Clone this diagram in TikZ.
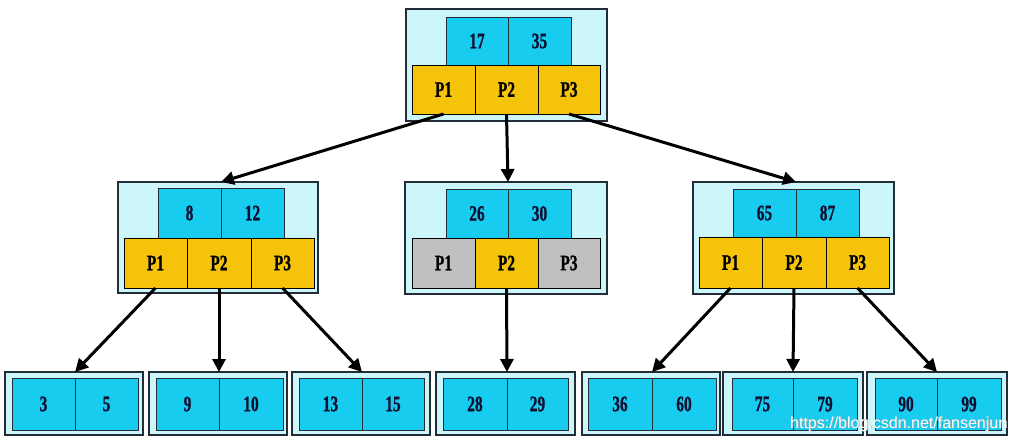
\documentclass[tikz,border=0pt]{standalone}
\usepackage{fontspec}
\usepackage{graphicx}
\setmainfont{Liberation Serif}[BoldFeatures={FakeBold=1.2}]
\newfontfamily\wmfont{Liberation Sans}
\usetikzlibrary{arrows.meta}
\definecolor{outerfill}{RGB}{204,246,250}
\definecolor{keyfill}{RGB}{24,204,240}
\definecolor{ptrfill}{RGB}{245,196,10}
\definecolor{grayfill}{RGB}{192,192,192}
\definecolor{bordercol}{RGB}{35,45,55}
\definecolor{txtcol}{RGB}{15,15,50}
\tikzset{
  outerbox/.style={draw=bordercol, fill=outerfill, line width=1.2pt},
  leafbox/.style={draw=bordercol, fill=outerfill, line width=1.6pt},
  keycell/.style={draw=bordercol, fill=keyfill, line width=1pt, text=txtcol, font=\bfseries\fontsize{22}{22}\selectfont},
  ptrcell/.style={draw=black, fill=ptrfill, line width=1pt, text=black, font=\bfseries\fontsize{22}{22}\selectfont},
  graycell/.style={ptrcell, fill=grayfill},
  link/.style={line width=3pt, -{Triangle[length=13pt,width=13pt]}},
}
\newcommand\mybox[7]{%
  \pgfmathsetmacro\bw{#5-#3}\pgfmathsetmacro\bh{#6-#4}%
  \node[#1, minimum width=\bw pt, minimum height=\bh pt, inner sep=0pt, outer sep=0pt] (#2) at ({(#3+#5)/2},{(#4+#6)/2}) {\scalebox{0.7}[1]{#7}};}
\begin{document}
\begin{tikzpicture}[x=1pt,y=-1pt]
\useasboundingbox (0,0) rectangle (1013,442);
% top
\mybox{outerbox}{T}{406}{9}{607}{121}{}
\mybox{keycell}{tk1}{446}{17}{508}{65}{17}
\mybox{keycell}{tk2}{508}{17}{571}{65}{35}
\mybox{ptrcell}{tp1}{412}{65}{475}{114}{P1}
\mybox{ptrcell}{tp2}{475}{65}{538}{114}{P2}
\mybox{ptrcell}{tp3}{538}{65}{600}{114}{P3}
% middle left
\mybox{outerbox}{ML}{118}{182}{318}{293}{}
\mybox{keycell}{mlk1}{158}{188}{221}{238}{8}
\mybox{keycell}{mlk2}{221}{188}{284}{238}{12}
\mybox{ptrcell}{mlp1}{124}{238}{187}{288}{P1}
\mybox{ptrcell}{mlp2}{187}{238}{251}{288}{P2}
\mybox{ptrcell}{mlp3}{251}{238}{314}{288}{P3}
% middle middle
\mybox{outerbox}{MM}{405}{182}{607}{294}{}
\mybox{keycell}{mmk1}{446}{189}{508}{238}{26}
\mybox{keycell}{mmk2}{508}{189}{571}{238}{30}
\mybox{graycell}{mmp1}{412}{238}{475}{288}{P1}
\mybox{ptrcell}{mmp2}{475}{238}{538}{288}{P2}
\mybox{graycell}{mmp3}{538}{238}{600}{288}{P3}
% middle right
\mybox{outerbox}{MR}{693}{182}{894}{294}{}
\mybox{keycell}{mrk1}{733}{189}{796}{237}{65}
\mybox{keycell}{mrk2}{796}{189}{859}{237}{87}
\mybox{ptrcell}{mrp1}{699}{237}{762}{288}{P1}
\mybox{ptrcell}{mrp2}{762}{237}{826}{288}{P2}
\mybox{ptrcell}{mrp3}{826}{237}{889}{288}{P3}
% leaves
\mybox{leafbox}{L1}{5}{372}{143}{435}{}
\mybox{keycell}{l1a}{12}{378}{75}{430}{3}
\mybox{keycell}{l1b}{75}{378}{138}{430}{5}
\mybox{leafbox}{L2}{149}{372}{287}{435}{}
\mybox{keycell}{l2a}{156}{378}{219}{430}{9}
\mybox{keycell}{l2b}{219}{378}{283}{430}{10}
\mybox{leafbox}{L3}{292}{372}{430}{435}{}
\mybox{keycell}{l3a}{299}{378}{362}{430}{13}
\mybox{keycell}{l3b}{362}{378}{424}{430}{15}
\mybox{leafbox}{L4}{436}{372}{575}{435}{}
\mybox{keycell}{l4a}{443}{378}{507}{430}{28}
\mybox{keycell}{l4b}{507}{378}{568}{430}{29}
\mybox{leafbox}{L5}{582}{372}{720}{435}{}
\mybox{keycell}{l5a}{588}{378}{652}{430}{36}
\mybox{keycell}{l5b}{652}{378}{716}{430}{60}
\mybox{leafbox}{L6}{723}{372}{863}{435}{}
\mybox{keycell}{l6a}{732}{378}{793}{430}{75}
\mybox{keycell}{l6b}{793}{378}{857}{430}{79}
\mybox{leafbox}{L7}{867}{372}{1007}{435}{}
\mybox{keycell}{l7a}{875}{378}{937}{430}{90}
\mybox{keycell}{l7b}{937}{378}{1001}{430}{99}
% links
\draw[link] (tp1.south) -- (mlk1.east |- ML.north);
\draw[link] (tp2.south) -- (mmk1.east |- MM.north);
\draw[link] (tp3.south) -- (mrk1.east |- MR.north);
\draw[link] (mlp1.south) -- (l1a.east |- L1.north);
\draw[link] (mlp2.south) -- (l2a.east |- L2.north);
\draw[link] (mlp3.south) -- (l3a.east |- L3.north);
\draw[link] (mmp2.south) -- (l4a.east |- L4.north);
\draw[link] (mrp1.south) -- (l5a.east |- L5.north);
\draw[link] (mrp2.south) -- (l6a.east |- L6.north);
\draw[link] (mrp3.south) -- (l7a.east |- L7.north);
% watermark
\node[anchor=base west, inner sep=0pt, text=gray!70, font=\wmfont\fontsize{16}{16}\selectfont] (wmshadow) at (790.8,428.8) {https://blog.csdn.net/fansenjun};
\node[anchor=base west, inner sep=0pt, text=white, font=\wmfont\fontsize{16}{16}\selectfont] (wm) at (790,428) {https://blog.csdn.net/fansenjun};
\end{tikzpicture}
\end{document}
